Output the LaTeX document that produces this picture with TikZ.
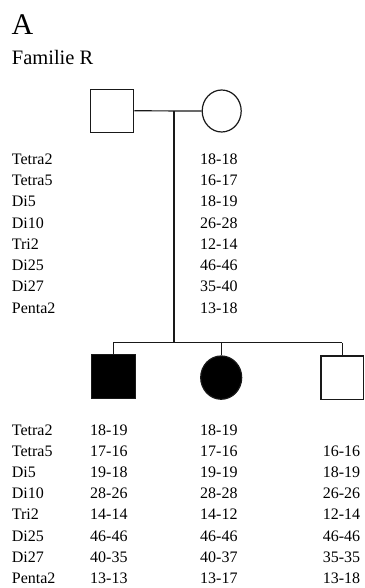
\documentclass[tikz,border=0pt]{standalone}
\usepackage{fontspec}
\setmainfont{Liberation Serif}
\usetikzlibrary{shapes.geometric}
\begin{document}
\begin{tikzpicture}[x=1pt,y=-1pt,
  ln/.style={line width=1.2pt,draw=black!90},
  sq/.style={rectangle,ln,inner sep=0pt,minimum width=43pt,minimum height=43pt},
  ci/.style={ellipse,ln,inner sep=0pt,minimum width=40pt,minimum height=42pt},
  aff/.style={fill=black},
  txt/.style={anchor=base west,inner sep=0pt,font=\fontsize{16}{18}\selectfont}]
\useasboundingbox (0,0) rectangle (364,588);
\node[anchor=base west,inner sep=0pt,font=\fontsize{30}{32}\selectfont] (lab) at (11.5,35) {A};
\node[anchor=base west,inner sep=0pt,font=\fontsize{20.5}{22}\selectfont] (fam) at (11.7,64.8) {Familie R};
% parents
\node[sq] (f) at (112.3,110.8) {};
\node[ci,minimum width=39pt] (m) at (221.7,111) {};
\coordinate (mid) at (174,110.9);
\coordinate (sib) at (174,342.7);
\draw[ln] (f.east) -- (m.west);
\draw[ln] (mid) -- (sib);
% children
\node[sq,aff,minimum width=44pt,minimum height=44pt] (c1) at (113.3,376.3) {};
\node[ci,aff,minimum width=41pt,minimum height=43.3pt] (c2) at (221.2,377.6) {};
\node[sq,minimum width=42.3pt,minimum height=43.3pt] (c3) at (342.2,377.7) {};
\draw[ln] (c1.north |- sib) -- (c3.north |- sib);
\draw[ln] (c1.north |- sib) -- (c1.north);
\draw[ln] (c2.north |- sib) -- (c2.north);
\draw[ln] (c3.north |- sib) -- (c3.north);
% parent table
\foreach \n/\l/\v [count=\i from 0] in {pa/Tetra2/18-18,pb/Tetra5/16-17,pc/Di5/18-19,pd/Di10/26-28,pe/Tri2/12-14,pf/Di25/46-46,pg/Di27/35-40,ph/Penta2/13-18}{
  \node[txt] (\n l) at (11.7,164.1+21.3*\i) {\l};
  \node[txt] (\n v) at (200,164.1+21.3*\i) {\v};
}
% children table
\foreach \n/\l/\a/\b/\c [count=\i from 0] in {ka/Tetra2/18-19/18-19/,kb/Tetra5/17-16/17-16/16-16,kc/Di5/19-18/19-19/18-19,kd/Di10/28-26/28-28/26-26,ke/Tri2/14-14/14-12/12-14,kf/Di25/46-46/46-46/46-46,kg/Di27/40-35/40-37/35-35,kh/Penta2/13-13/13-17/13-18}{
  \node[txt] (\n l) at (11.7,435.5+21.1*\i) {\l};
  \node[txt] (\n a) at (90,435.5+21.1*\i) {\a};
  \node[txt] (\n b) at (200,435.5+21.1*\i) {\b};
  \node[txt] (\n c) at (322.7,435.5+21.1*\i) {\c};
}
\end{tikzpicture}
\end{document}
